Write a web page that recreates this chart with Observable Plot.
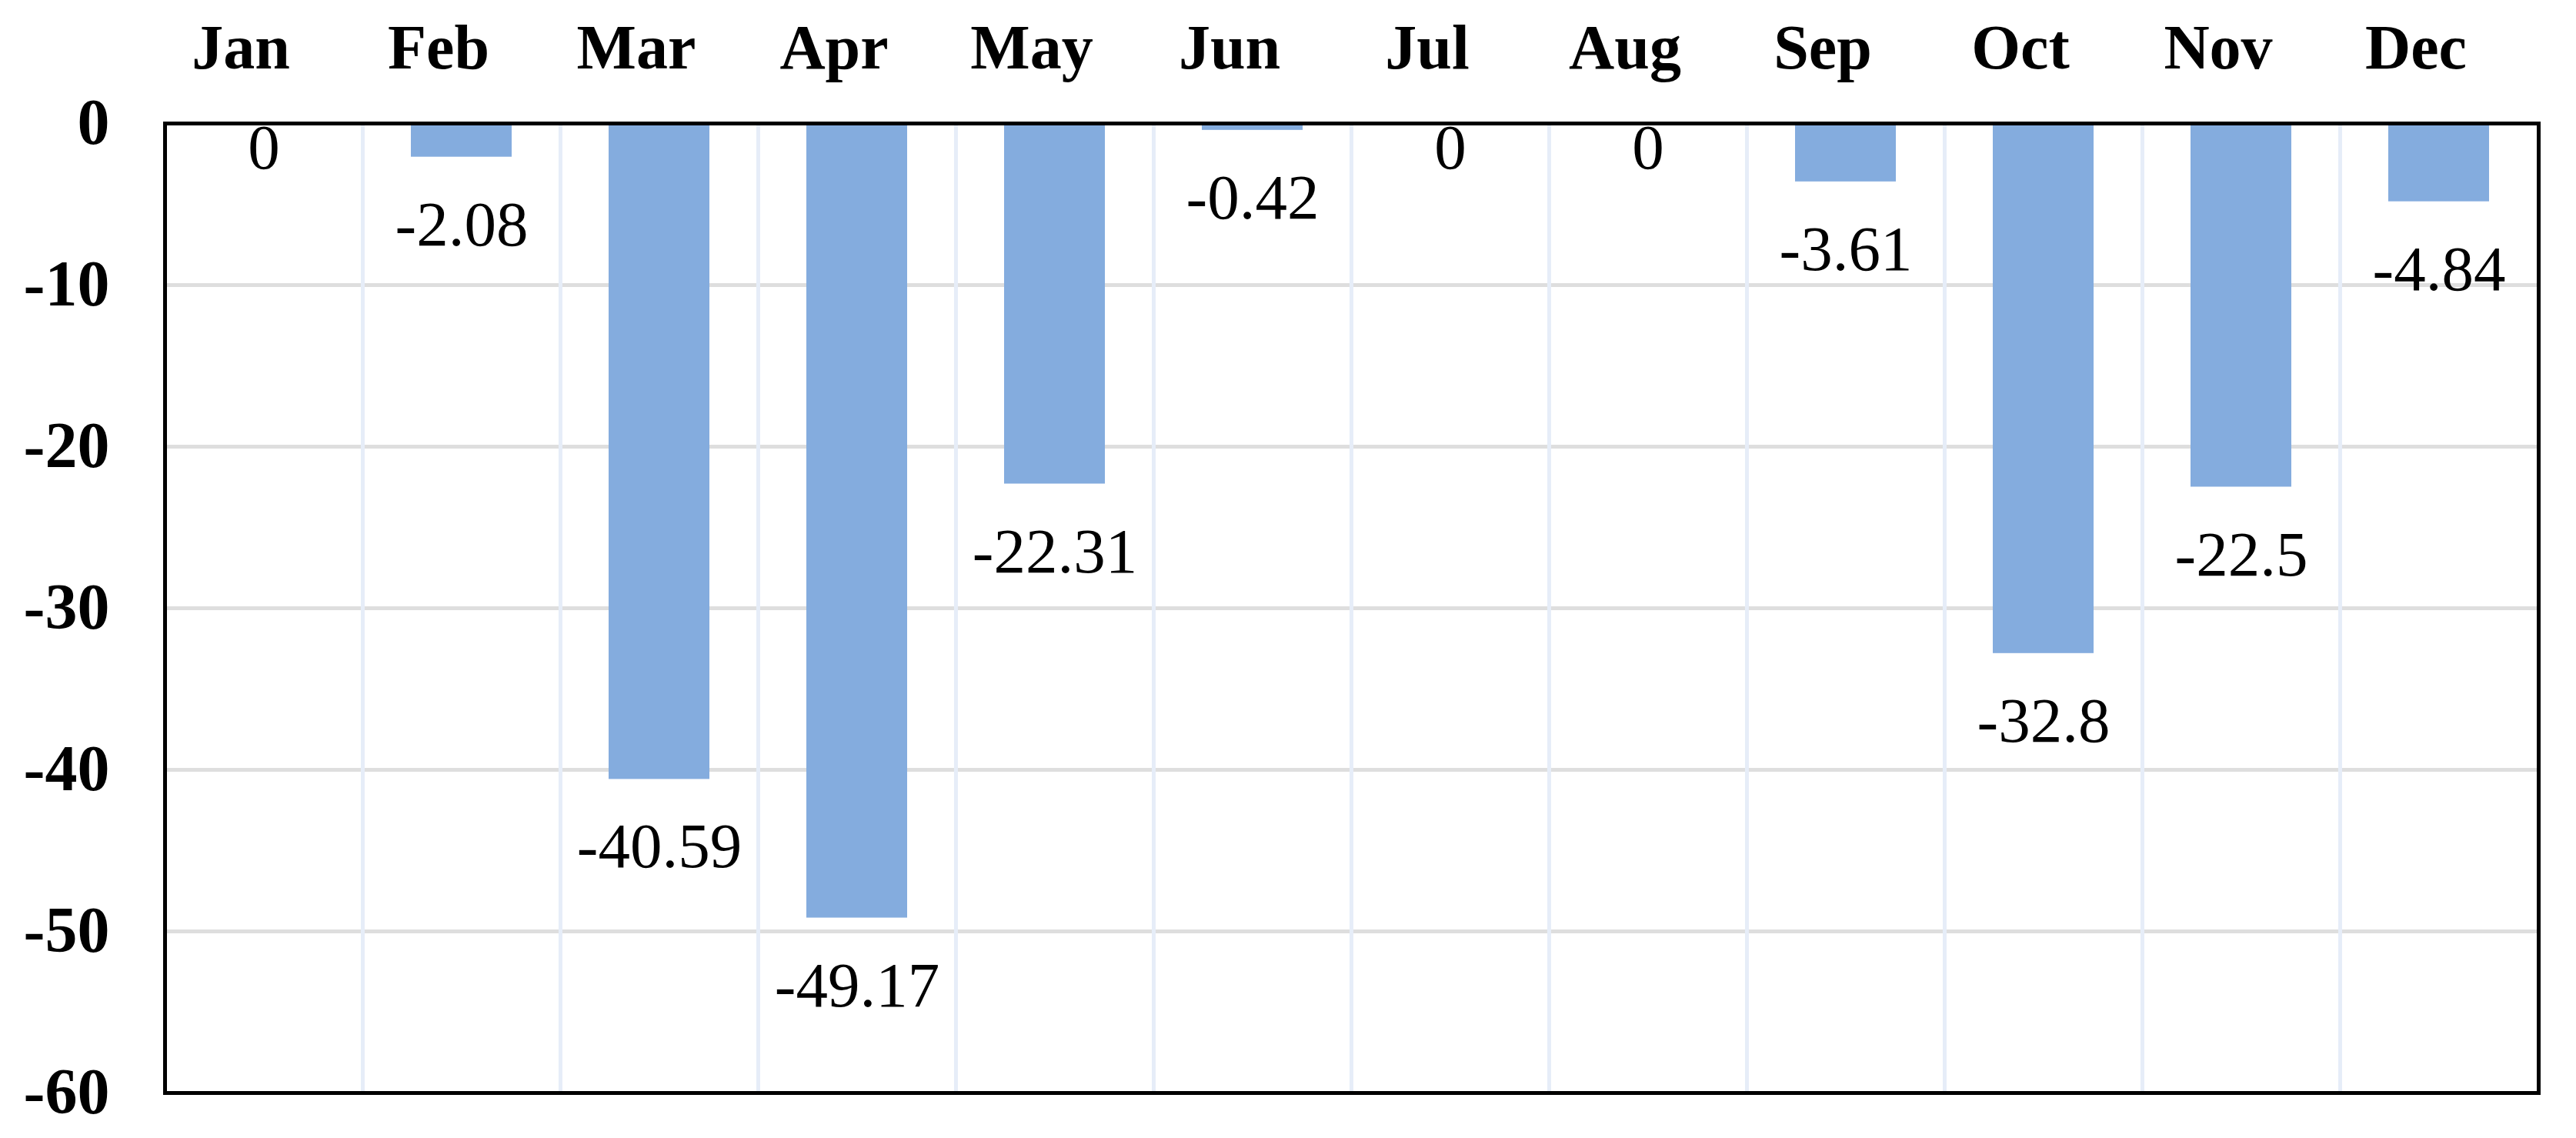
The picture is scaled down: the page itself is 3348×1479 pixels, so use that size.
<!DOCTYPE html>
<html>
<head>
<meta charset="utf-8">
<script src="https://cdn.jsdelivr.net/npm/d3@7"></script>
<script src="https://cdn.jsdelivr.net/npm/@observablehq/plot@0.6"></script>
<style>
  html, body { margin: 0; padding: 0; background: #fff; }
  #chart svg { display: block; }
</style>
</head>
<body>
<div id="chart"></div>
<script>
const months = ["Jan", "Feb", "Mar", "Apr", "May", "Jun", "Jul", "Aug", "Sep", "Oct", "Nov", "Dec"];
const values = [0, -2.08, -40.59, -49.17, -22.31, -0.42, 0, 0, -3.61, -32.8, -22.5, -4.84];
const yTicks = [0, -10, -20, -30, -40, -50, -60];

const data = months.map((m, i) => ({month: m, value: values[i]}));

const W = 3348, H = 1479;
const mL = 214, mR = 49, mT = 160, mB = 59;
const step = (W - mL - mR) / months.length;

const chart = Plot.plot({
  width: W,
  height: H,
  marginLeft: mL,
  marginRight: mR,
  marginTop: mT,
  marginBottom: mB,
  style: {fontFamily: "'Liberation Serif', 'Times New Roman', serif", background: "#fff", color: "#000"},
  x: {domain: months, paddingInner: 0.49, paddingOuter: 0.245, axis: null},
  y: {domain: [-60, 0], axis: null},
  marks: [
    Plot.ruleY(yTicks, {stroke: "#dedede", strokeWidth: 5}),
    Plot.ruleX(months.slice(1), {x: d => d, dx: -step / 2, stroke: "#e6edf8", strokeWidth: 5}),
    Plot.barY(data, {x: "month", y: "value", fill: "#84acde"}),
    Plot.frame({stroke: "#000", strokeWidth: 5}),
    Plot.text(data, {filter: d => d.value !== 0, x: "month", y: "value", text: d => String(d.value),
      dy: 88, fontSize: 83, fill: "#000", lineAnchor: "middle"}),
    Plot.text(data, {filter: d => d.value === 0, x: "month", y: "value", text: d => String(d.value),
      dy: 32, fontSize: 83, fill: "#000", lineAnchor: "middle"}),
    Plot.axisX({anchor: "top", tickSize: 0, tickPadding: 72, dx: -30, fontSize: 82, fontWeight: "bold", label: null}),
    Plot.axisY(yTicks, {anchor: "left", tickSize: 0, tickPadding: 72, fontSize: 84, fontWeight: "bold",
      tickFormat: d => String(d), label: null})
  ]
});
document.getElementById("chart").appendChild(chart);
</script>
</body>
</html>
